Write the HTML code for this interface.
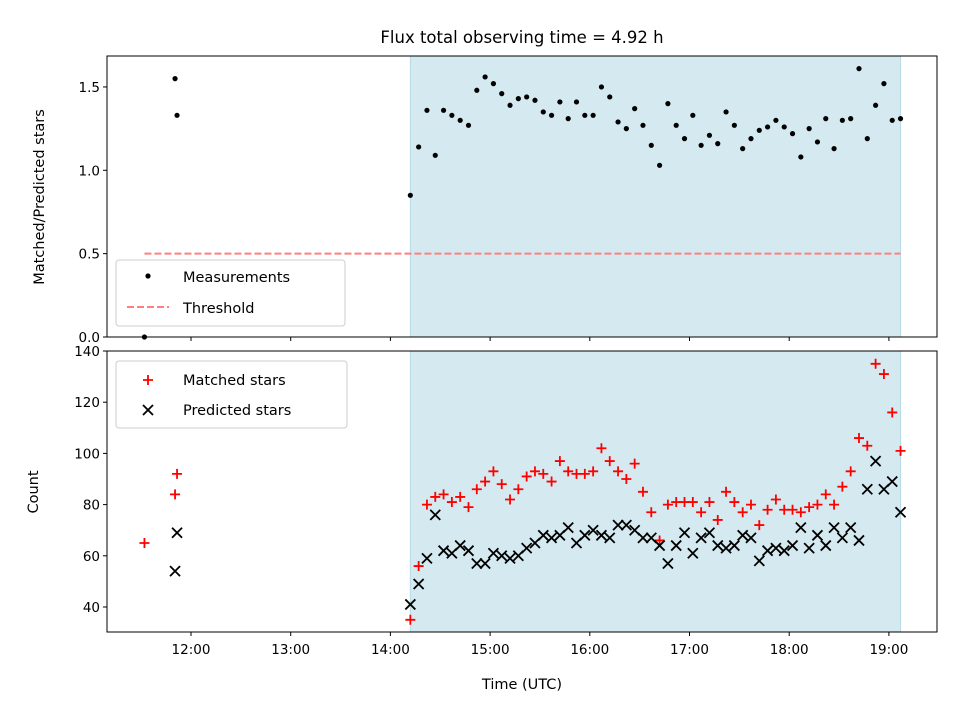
<!DOCTYPE html>
<html><head><meta charset="utf-8"><style>
body{margin:0;background:#fff;font-family:"Liberation Sans","DejaVu Sans",sans-serif}
svg text{font-family:"DejaVu Sans","Liberation Sans",sans-serif;fill:#000}
</style></head><body>
<svg id="c" width="960" height="720" xmlns="http://www.w3.org/2000/svg"></svg>
<script>
const earlyTimes=[11.533,11.84,11.86];
const earlyRatio=[0.0,1.55,1.33];
const earlyMatched=[65,84,92];
const earlyPredicted=[null,54,69];
const ratio=[0.85,1.14,1.36,1.09,1.36,1.33,1.30,1.27,1.48,1.56,1.52,1.46,1.39,1.43,1.44,1.42,1.35,1.33,1.41,1.31,1.41,1.33,1.33,1.50,1.44,1.29,1.25,1.37,1.27,1.15,1.03,1.40,
1.27,1.19,1.33,1.15,1.21,1.16,1.35,1.27,1.13,1.19,1.24,1.26,1.30,1.26,1.22,1.08,1.25,1.17,1.31,1.13,1.30,1.31,1.61,1.19,1.39,1.52,1.30,1.31];
const matched=[35,56,80,83,84,81,83,79,86,89,93,88,82,86,91,93,92,89,97,93,92,92,93,102,97,93,90,96,85,77,66,80,
81,81,81,77,81,74,85,81,77,80,72,78,82,78,78,77,79,80,84,80,87,93,106,103,135,131,116,101];
const predicted=[41,49,59,76,62,61,64,62,57,57,61,60,59,60,63,65,68,67,68,71,65,68,70,68,67,72,72,70,67,67,64,57,
64,69,61,67,69,64,63,64,68,67,58,62,63,62,64,71,63,68,64,71,67,71,66,86,97,86,89,77];
const startHour=14.2, stepHour=5/60;
const yTicksTop=[0.0,0.5,1.0,1.5], yTicksBot=[40,60,80,100,120,140];
const xTickLabels=["12:00","13:00","14:00","15:00","16:00","17:00","18:00","19:00"];
const xTickHours=[12,13,14,15,16,17,18,19];
const threshold=0.5, shadeStart=14.2, shadeEnd=19.117;

const NS="http://www.w3.org/2000/svg", svg=document.getElementById('c');
function el(t,a,p){const e=document.createElementNS(NS,t);for(const k in a)e.setAttribute(k,a[k]);(p||svg).appendChild(e);return e;}
const L=107,R=937,T1=56,B1=337,T2=351,B2=632;
const X=h=>191+(h-12)*99.7;
const Y1=v=>337-v*166.7;
const Y2=v=>351+(140-v)*2.56;
const times=ratio.map((_,i)=>startHour+i*stepHour);

let s=el('rect',{x:X(shadeStart),y:T1,width:X(shadeEnd)-X(shadeStart),height:B1-T1,fill:'#d4eaf0',stroke:'#b5dbe6'});

s=el('rect',{x:X(shadeStart),y:T2,width:X(shadeEnd)-X(shadeStart),height:B2-T2,fill:'#d4eaf0',stroke:'#b5dbe6'});


let th=el('line',{x1:X(earlyTimes[0]),x2:X(shadeEnd),y1:Y1(threshold),y2:Y1(threshold),stroke:'#ff7f7f','stroke-width':2,'stroke-dasharray':'7,3'});


const gTop=el('g',{});
earlyTimes.concat(times).forEach((t,i)=>{const v=earlyRatio.concat(ratio)[i];
 const c=el('circle',{cx:X(t),cy:Y1(v),r:2.6,fill:'#000'},gTop);
 });

const gM=el('g',{});
const gP=el('g',{});
const allT=earlyTimes.concat(times), allM=earlyMatched.concat(matched), allP=earlyPredicted.concat(predicted);
allT.forEach((t,i)=>{
 const x=X(t);
 if(allP[i]!=null){const y=Y2(allP[i]);
  const p=el('path',{d:`M${x-5},${y-5}L${x+5},${y+5}M${x-5},${y+5}L${x+5},${y-5}`,stroke:'#000','stroke-width':1.8},gP);
  }
 const y=Y2(allM[i]);
 const m=el('path',{d:`M${x-5},${y}L${x+5},${y}M${x},${y-5}L${x},${y+5}`,stroke:'#f00','stroke-width':1.8},gM);
 
});

let f=el('rect',{x:L,y:T1,width:R-L,height:B1-T1,fill:'none',stroke:'#000','stroke-width':1});

f=el('rect',{x:L,y:T2,width:R-L,height:B2-T2,fill:'none',stroke:'#000','stroke-width':1});


yTicksTop.forEach(v=>{const y=Y1(v);el('line',{x1:L-4,x2:L,y1:y,y2:y,stroke:'#000'});
 const t=el('text',{x:L-7,y:y+5,'text-anchor':'end','font-size':13.5});t.textContent=v.toFixed(1);
 });
yTicksBot.forEach(v=>{const y=Y2(v);el('line',{x1:L-4,x2:L,y1:y,y2:y,stroke:'#000'});
 const t=el('text',{x:L-7,y:y+5,'text-anchor':'end','font-size':13.5});t.textContent=v;
 });
xTickHours.forEach((h,i)=>{const x=X(h);
 el('line',{x1:x,x2:x,y1:B1,y2:B1+4,stroke:'#000'});
 el('line',{x1:x,x2:x,y1:B2,y2:B2+4,stroke:'#000'});
 const t=el('text',{x:x,y:B2+22,'text-anchor':'middle','font-size':13.5});t.textContent=xTickLabels[i];
 });

function txt(x,y,s,name,extra){const t=el('text',Object.assign({x:x,y:y,'font-size':14},extra||{}));t.textContent=s;
 return t;}
txt(522,43,'Flux total observing time = 4.92 h','chart-title',{'text-anchor':'middle','font-size':16.5});
txt(522,689,'Time (UTC)','x-axis-title',{'text-anchor':'middle','font-size':14.5});
txt(44,197,'Matched/Predicted stars','y-axis-title-top',{'text-anchor':'middle','font-size':14.5,transform:'rotate(-90 44 197)'});
txt(38,492,'Count','y-axis-title-bottom',{'text-anchor':'middle','font-size':14.5,transform:'rotate(-90 38 492)'});

let lg=el('g',{});
el('rect',{x:116,y:260,width:229,height:66,rx:3,fill:'#fff','fill-opacity':0.8,stroke:'#ccc'},lg);
el('circle',{cx:148,cy:276,r:2.6,fill:'#000'},lg);
txt(183,282,'Measurements','legend-entry-measurements',{'font-size':14.5});
el('line',{x1:127,x2:169,y1:307,y2:307,stroke:'#ff7f7f','stroke-width':2,'stroke-dasharray':'7,3'},lg);
txt(183,313,'Threshold','legend-entry-threshold',{'font-size':14.5});
lg=el('g',{});
el('rect',{x:116,y:361,width:231,height:67,rx:3,fill:'#fff','fill-opacity':0.8,stroke:'#ccc'},lg);
el('path',{d:'M143,380L153,380M148,375L148,385',stroke:'#f00','stroke-width':1.8},lg);
txt(183,385,'Matched stars','legend-entry-matched',{'font-size':14.5});
el('path',{d:'M143,405L153,415M143,415L153,405',stroke:'#000','stroke-width':1.8},lg);
txt(183,415,'Predicted stars','legend-entry-predicted',{'font-size':14.5});
</script>
</body></html>
